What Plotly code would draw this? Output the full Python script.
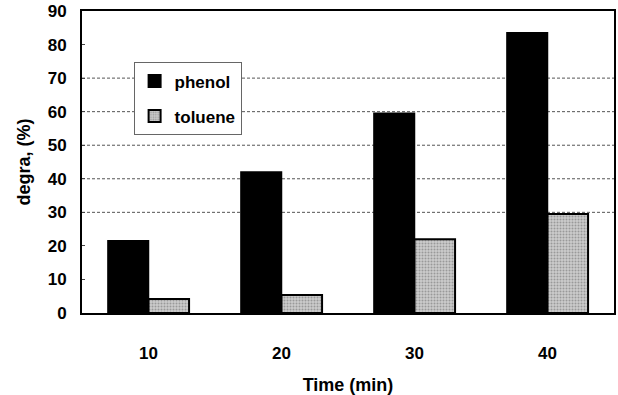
import plotly.graph_objects as go

categories = ["10", "20", "30", "40"]
phenol = [21.5, 42, 59.5, 83.5]
toluene = [4.2, 5.4, 22, 29.5]
y_ticks = [0, 10, 20, 30, 40, 50, 60, 70, 80, 90]
grid_values = [30, 40, 50, 60, 70]

FAM = "Liberation Sans, Arial, sans-serif"

fig = go.Figure()
fig.add_trace(go.Bar(
    x=categories, y=phenol, name="phenol", legendgroup="a",
    marker=dict(color="black", line=dict(color="black", width=1.5)),
))
fig.add_trace(go.Bar(
    x=categories, y=toluene, name="toluene", legendgroup="b",
    marker=dict(color="#c0c0c0", line=dict(color="black", width=2),
                pattern=dict(shape=".", fgcolor="#666666", bgcolor="#cccccc", size=3, solidity=0.35)),
))

for g in grid_values:
    fig.add_shape(type="line", xref="paper", yref="y", x0=0, x1=1, y0=g, y1=g,
                  line=dict(color="#555555", width=1, dash="3px,2px"), layer="below")

fig.update_layout(
    width=618, height=395,
    margin=dict(l=82, r=4, t=11, b=82),
    paper_bgcolor="white", plot_bgcolor="white",
    barmode="group", bargap=0.39, bargroupgap=0,
    font=dict(size=17, family=FAM, color="black"),
    showlegend=True,
    legend=dict(
        x=0.097, y=0.83, xanchor="left", yanchor="top",
        bgcolor="white", bordercolor="#666666", borderwidth=1,
        font=dict(size=17, family=FAM, color="black", weight="bold"),
        itemsizing="constant", tracegroupgap=10, itemwidth=30,
        traceorder="grouped",
    ),
    xaxis=dict(
        type="category", showline=True, linecolor="black", linewidth=2, mirror=True,
        automargin=False,
        ticks="", tickfont=dict(size=17, family=FAM, color="black", weight="bold"),
        ticklabelstandoff=24,
        title=dict(text="Time (min)", font=dict(size=18, family=FAM, color="black", weight="bold"), standoff=18),
    ),
    yaxis=dict(
        range=[0, 90], tickvals=y_ticks, showgrid=False, zeroline=False,
        showline=True, linecolor="black", linewidth=2, mirror=True,
        automargin=False,
        ticks="inside", ticklen=3, tickcolor="#444",
        tickfont=dict(size=17, family=FAM, color="black", weight="bold"),
        ticklabelstandoff=10,
        title=dict(text="degra, (%)", font=dict(size=18, family=FAM, color="black", weight="bold"), standoff=12),
    ),
)

fig.write_html("out.html")
